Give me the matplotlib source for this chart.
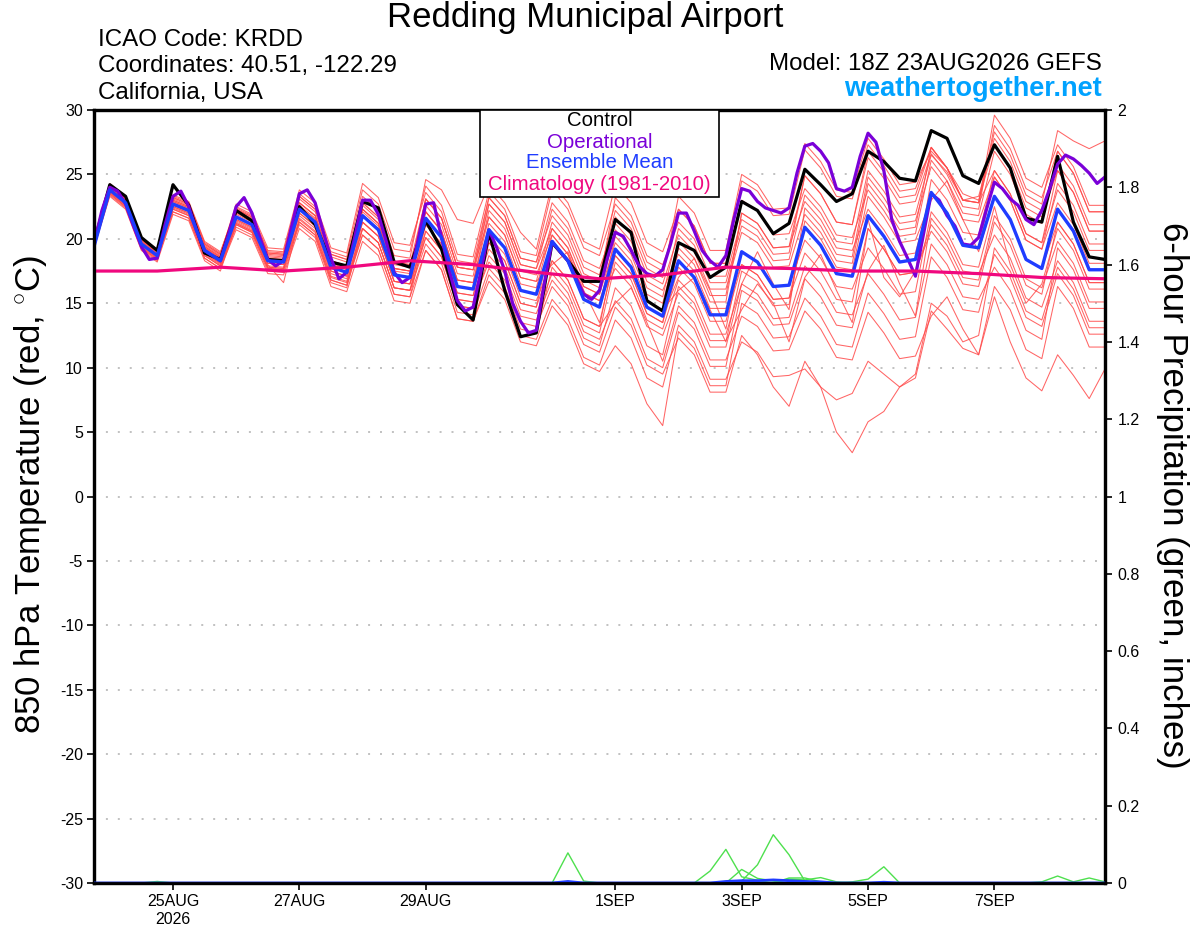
import numpy as np
import matplotlib
matplotlib.use('Agg')
import matplotlib.pyplot as plt
from matplotlib.patches import Rectangle

plt.rcParams['font.family'] = ['Liberation Sans', 'DejaVu Sans']
plt.rcParams['mathtext.fontset'] = 'custom'
plt.rcParams['mathtext.rm'] = 'Liberation Sans'

# ---------------- data (6-hourly from 18Z 23AUG2026, 65 steps) ----------------
tick_pos = [5, 13, 21, 33, 41, 49, 57]
tick_labels = ['25AUG\n2026', '27AUG', '29AUG', '1SEP', '3SEP', '5SEP', '7SEP']

control = [19.7, 24.2, 23.3, 20.1, 19.1, 24.2, 22.6, 18.9, 18.4, 22.2, 21.4, 18.4, 18.3,
           22.5, 21.1, 18.2, 17.9, 22.9, 22.4, 18.2, 17.8, 21.4, 19.2, 14.9, 13.7,
           20.5, 16.0, 12.4, 12.7, 19.7, 18.3, 16.7, 16.7, 21.5, 20.5, 15.2, 14.4,
           19.7, 19.1, 17.0, 17.8, 22.9, 22.2, 20.4, 21.2, 25.4, 24.2, 22.9, 23.5,
           26.8, 26.0, 24.7, 24.5, 28.4, 27.8, 24.9, 24.3, 27.3, 25.5, 21.6, 21.3,
           26.4, 21.3, 18.6, 18.4]

ens_mean = [19.4, 23.8, 22.8, 19.6, 18.7, 22.7, 22.2, 19.1, 18.3, 21.7, 21.1, 18.3, 18.2,
            22.3, 21.3, 17.8, 17.4, 21.8, 20.7, 17.2, 17.0, 21.6, 20.1, 16.3, 16.1,
            20.7, 19.3, 16.0, 15.7, 19.8, 18.3, 15.3, 14.7, 19.2, 17.8, 14.7, 14.0,
            18.3, 17.0, 14.1, 14.1, 19.0, 18.2, 16.3, 16.4, 20.9, 19.5, 17.3, 17.1,
            21.8, 20.2, 18.2, 18.4, 23.6, 22.0, 19.5, 19.3, 23.3, 21.5, 18.4, 17.7,
            22.3, 20.6, 17.6, 17.6]

# operational run, 3-hourly (129 values)
operational = [19.6, 22.2, 24.0, 23.7, 22.7, 21.0, 19.4, 18.4,
               18.5, 21.1, 23.3, 23.7, 22.5, 20.6, 19.1, 18.7,
               18.3, 20.3, 22.5, 23.2, 22.0, 20.1, 18.4, 17.9,
               18.3, 20.9, 23.5, 23.8, 22.8, 20.6, 18.5, 16.9,
               17.4, 20.1, 23.0, 23.0, 21.9, 19.8, 17.4, 16.6,
               17.0, 19.8, 22.7, 22.8, 20.1, 17.5, 15.2, 14.4,
               14.7, 17.5, 20.7, 19.3, 17.5, 15.0, 13.6, 12.7,
               12.9, 16.5, 19.8, 19.0, 18.3, 17.0, 15.7, 15.3,
               16.0, 18.5, 20.5, 20.2, 19.1, 17.9, 17.3, 17.1,
               17.6, 19.6, 22.0, 22.0, 20.6, 19.1, 18.3, 17.8,
               18.7, 21.5, 23.9, 23.7, 22.9, 22.4, 22.2, 22.0,
               22.4, 25.1, 27.2, 27.4, 26.8, 25.9, 23.9, 23.7,
               24.0, 26.4, 28.2, 27.5, 25.3, 21.5, 19.8, 18.5,
               17.1, 20.3, 23.5, 23.0, 21.8, 21.0, 19.6, 19.5,
               20.1, 22.3, 24.4, 23.9, 23.1, 22.6, 21.5, 21.1,
               22.2, 23.9, 25.8, 26.5, 26.2, 25.7, 25.1, 24.3,
               24.8]

# climatology, daily (every 4th step)
clim_daily = [17.5, 17.5, 17.8, 17.5, 17.8, 18.3, 18.0, 17.4, 16.9,
              17.2, 17.8, 17.7, 17.5, 17.5, 17.3, 17.0, 16.9]

m01 = [19.5, 24.2, 23.2, 20.0, 19.1, 23.3, 22.8, 19.7, 18.9, 22.5, 21.9, 19.1, 19.0, 23.5, 22.5, 19.0, 18.6, 23.8, 22.7, 19.2, 19.0, 24.1, 22.6, 18.8, 18.6, 23.7, 22.3, 19.0, 18.7, 23.8, 22.3, 19.3, 18.7, 22.7, 21.3, 18.2, 17.5, 22.3, 21.0, 18.1, 18.1, 24.5, 23.7, 21.8, 21.9, 26.9, 25.5, 23.3, 23.1, 27.3, 25.7, 23.7, 23.9, 27.1, 25.5, 23.0, 22.8, 29.6, 27.8, 24.7, 24.0, 27.3, 25.6, 22.6, 22.6]
m02 = [19.3, 23.5, 22.5, 19.3, 18.4, 22.3, 21.8, 18.7, 17.9, 21.1, 20.5, 17.7, 17.6, 21.3, 20.3, 16.8, 16.4, 20.3, 19.2, 15.7, 15.5, 19.1, 17.6, 13.8, 13.6, 17.2, 15.8, 12.5, 12.2, 15.3, 13.8, 10.8, 10.2, 13.7, 12.3, 9.2, 8.5, 13.3, 12.0, 9.1, 9.1, 12.0, 11.2, 9.3, 9.4, 9.9, 8.5, 5.0, 3.4, 5.8, 6.6, 8.5, 9.2, 14.4, 13.0, 11.5, 11.0, 15.5, 12.0, 9.2, 8.2, 11.0, 9.4, 7.6, 9.9]
m03 = [19.6, 24.0, 23.0, 19.8, 18.9, 23.0, 22.5, 19.4, 18.6, 22.2, 21.6, 18.8, 18.7, 23.1, 22.1, 18.6, 18.2, 23.3, 22.2, 18.7, 18.5, 24.6, 23.8, 21.5, 21.2, 24.2, 22.8, 20.5, 19.2, 24.3, 22.8, 19.8, 19.2, 24.2, 22.8, 19.7, 19.0, 22.3, 21.0, 18.1, 18.1, 23.0, 22.2, 20.3, 20.4, 23.9, 22.5, 20.3, 20.1, 23.8, 22.2, 20.2, 20.4, 26.1, 24.5, 22.0, 21.8, 26.8, 25.0, 21.9, 21.2, 26.8, 25.1, 22.1, 22.1]
m04 = [19.4, 23.4, 22.4, 19.2, 18.3, 22.1, 21.6, 18.5, 17.7, 20.7, 20.1, 17.3, 17.2, 20.8, 19.8, 16.3, 15.9, 19.8, 18.7, 15.2, 15.0, 19.1, 17.6, 13.8, 13.6, 16.7, 15.3, 12.0, 11.7, 14.8, 13.3, 10.3, 9.7, 11.7, 10.3, 7.2, 5.5, 12.8, 11.5, 8.6, 8.6, 15.0, 14.2, 12.3, 12.4, 15.4, 14.0, 11.8, 11.6, 15.8, 14.2, 12.2, 12.4, 18.6, 17.0, 14.5, 14.3, 18.8, 17.0, 13.9, 13.2, 17.3, 15.6, 12.6, 12.6]
m05 = [19.7, 24.3, 23.3, 20.1, 19.2, 23.4, 22.9, 19.8, 19.0, 22.3, 21.7, 18.9, 18.8, 22.8, 21.8, 18.3, 17.9, 22.3, 21.2, 17.7, 17.5, 22.6, 21.1, 17.3, 17.1, 22.7, 21.3, 18.0, 17.7, 22.3, 20.8, 17.8, 17.2, 22.2, 20.8, 17.7, 17.0, 23.3, 22.0, 19.1, 19.1, 25.0, 24.2, 22.3, 22.4, 27.4, 26.0, 23.8, 23.6, 27.8, 26.2, 24.2, 24.4, 26.8, 25.5, 23.5, 23.0, 27.3, 25.5, 22.4, 21.7, 25.3, 23.6, 20.6, 20.6]
m06 = [19.4, 23.6, 22.6, 19.4, 18.5, 22.4, 21.9, 18.8, 18.0, 21.5, 20.9, 18.1, 18.0, 21.8, 20.8, 17.3, 16.9, 20.8, 19.7, 16.2, 16.0, 20.1, 18.6, 14.8, 14.6, 18.7, 17.3, 14.0, 13.7, 16.8, 15.3, 12.3, 11.7, 16.2, 14.8, 11.7, 11.0, 16.3, 15.0, 12.1, 12.1, 14.5, 16.5, 15.0, 12.0, 16.9, 15.5, 13.3, 13.1, 17.5, 19.5, 16.5, 14.0, 21.6, 20.0, 17.5, 17.3, 20.3, 18.5, 15.4, 14.7, 18.3, 16.6, 13.6, 13.6]
m07 = [19.5, 23.9, 22.9, 19.7, 18.8, 22.9, 22.4, 19.3, 18.5, 22.1, 21.5, 18.7, 18.6, 22.8, 21.8, 18.3, 17.9, 22.8, 21.7, 18.2, 18.0, 23.1, 21.6, 17.8, 17.6, 21.7, 20.3, 17.0, 16.7, 21.3, 19.8, 16.8, 16.2, 21.7, 20.3, 17.2, 16.5, 20.3, 19.0, 16.1, 16.1, 20.5, 19.7, 17.8, 17.9, 21.9, 20.5, 18.3, 18.1, 24.3, 22.7, 20.7, 20.9, 27.1, 25.5, 23.0, 22.8, 25.3, 23.5, 20.4, 19.7, 23.8, 22.1, 19.1, 19.1]
m08 = [19.4, 23.7, 22.7, 19.5, 18.6, 22.3, 21.8, 18.7, 17.9, 20.9, 20.3, 17.5, 17.4, 21.1, 20.1, 16.6, 16.2, 20.8, 19.7, 16.2, 16.0, 19.6, 18.1, 14.3, 14.1, 17.7, 16.3, 13.0, 12.7, 17.8, 16.3, 13.3, 12.7, 18.2, 16.8, 13.7, 13.0, 16.8, 15.5, 12.6, 12.6, 16.5, 15.7, 13.8, 13.9, 17.9, 16.5, 14.3, 14.1, 17.3, 15.7, 13.7, 13.9, 19.6, 18.0, 15.5, 15.3, 17.8, 16.0, 12.9, 12.2, 19.3, 17.6, 14.6, 14.6]
m09 = [19.6, 24.1, 23.1, 19.9, 19.0, 22.8, 22.3, 19.2, 18.4, 21.7, 21.1, 18.3, 18.2, 22.6, 21.6, 18.1, 17.7, 22.6, 21.5, 18.0, 17.8, 22.1, 20.6, 16.8, 16.6, 22.2, 20.8, 17.5, 17.2, 20.3, 18.8, 15.8, 15.2, 18.7, 17.3, 14.2, 13.5, 19.3, 18.0, 15.1, 15.1, 22.0, 21.2, 19.3, 19.4, 24.9, 23.5, 21.3, 21.1, 26.8, 25.2, 23.2, 23.4, 27.1, 25.5, 23.0, 22.8, 28.3, 26.5, 23.4, 22.7, 28.4, 27.6, 27.0, 27.6]
m10 = [19.4, 23.8, 22.8, 19.6, 18.7, 22.5, 22.0, 18.9, 18.1, 21.9, 21.3, 18.5, 18.4, 22.0, 21.0, 17.5, 17.1, 21.3, 20.2, 16.7, 16.5, 20.6, 19.1, 15.3, 15.1, 20.2, 18.8, 15.5, 15.2, 18.3, 16.8, 13.8, 13.2, 15.0, 16.2, 13.5, 10.5, 14.8, 13.5, 10.6, 10.6, 14.0, 13.2, 11.3, 11.4, 14.4, 13.0, 10.8, 10.6, 14.3, 12.7, 10.7, 10.9, 14.0, 15.5, 13.0, 11.0, 16.3, 14.5, 11.4, 10.7, 16.3, 14.6, 11.6, 11.6]
m11 = [19.5, 24.0, 23.0, 19.8, 18.9, 23.2, 22.7, 19.6, 18.8, 22.7, 22.1, 19.3, 19.2, 23.8, 22.8, 19.3, 18.9, 24.3, 23.2, 19.7, 19.5, 23.6, 22.1, 18.3, 18.1, 23.2, 21.8, 18.5, 18.2, 22.8, 21.3, 18.3, 17.7, 21.2, 19.8, 16.7, 16.0, 18.8, 17.5, 14.6, 14.6, 18.0, 17.2, 15.3, 15.4, 18.9, 17.5, 15.3, 15.1, 20.8, 19.2, 17.2, 17.4, 24.6, 23.0, 20.5, 20.3, 25.3, 23.5, 20.4, 19.7, 25.3, 23.6, 20.6, 20.6]
m12 = [19.3, 23.5, 22.5, 19.3, 18.4, 22.6, 22.1, 19.0, 18.2, 21.3, 20.7, 17.9, 17.8, 21.5, 20.5, 17.0, 16.6, 20.8, 19.7, 16.2, 16.0, 21.1, 19.6, 15.8, 15.6, 21.2, 19.8, 16.5, 16.2, 20.8, 19.3, 16.3, 15.7, 20.7, 19.3, 16.2, 15.5, 20.8, 19.5, 16.6, 16.6, 21.0, 20.2, 18.3, 18.4, 23.4, 22.0, 19.8, 19.6, 25.3, 23.7, 21.7, 21.9, 26.5, 25.2, 23.0, 23.3, 27.8, 26.0, 22.9, 22.2, 25.8, 24.1, 21.1, 21.1]
m13 = [19.5, 23.9, 22.9, 19.7, 18.8, 23.1, 22.6, 19.5, 18.7, 22.0, 21.4, 18.6, 18.5, 22.5, 21.5, 18.0, 17.6, 21.8, 20.7, 17.2, 17.0, 21.1, 19.6, 15.8, 15.6, 19.2, 17.8, 14.5, 14.2, 17.3, 15.8, 12.8, 12.2, 15.2, 13.8, 10.7, 10.0, 14.3, 13.0, 10.1, 10.1, 16.0, 15.2, 13.3, 13.4, 17.0, 18.8, 16.0, 13.5, 20.8, 19.2, 17.2, 17.4, 21.1, 19.5, 17.0, 16.8, 21.8, 20.0, 16.9, 16.2, 19.8, 18.1, 15.1, 15.1]
m14 = [19.3, 23.3, 22.3, 19.1, 18.2, 21.9, 21.4, 18.3, 17.5, 21.1, 20.5, 17.7, 17.6, 22.0, 21.0, 17.5, 17.1, 22.1, 21.0, 17.5, 17.3, 23.1, 21.6, 17.8, 17.6, 22.7, 21.3, 18.0, 17.7, 20.8, 19.3, 16.3, 15.7, 19.7, 18.3, 15.2, 14.5, 16.0, 17.0, 14.5, 12.0, 17.5, 16.7, 14.8, 14.9, 21.4, 20.0, 17.8, 17.6, 23.3, 21.7, 19.7, 19.9, 23.0, 24.5, 21.5, 19.0, 23.3, 21.5, 18.4, 17.7, 21.3, 19.6, 16.6, 16.6]
m15 = [19.6, 24.1, 23.1, 19.9, 19.0, 22.7, 22.2, 19.1, 18.3, 21.4, 20.8, 18.0, 16.6, 21.6, 20.6, 17.1, 16.7, 20.3, 19.2, 15.7, 15.5, 20.6, 19.1, 15.3, 15.1, 18.2, 16.8, 13.5, 13.2, 16.3, 14.8, 11.8, 11.2, 14.7, 13.3, 10.2, 9.5, 12.3, 11.0, 8.1, 8.1, 12.5, 11.0, 8.5, 7.0, 10.5, 8.5, 7.5, 8.0, 10.5, 9.5, 8.5, 9.5, 15.0, 14.0, 12.0, 12.5, 19.3, 17.5, 14.4, 13.7, 17.8, 16.1, 13.1, 13.1]
m16 = [19.4, 23.8, 22.8, 19.6, 18.7, 23.2, 22.7, 19.6, 18.8, 22.4, 21.8, 19.0, 18.9, 23.3, 22.3, 18.8, 18.4, 22.8, 21.7, 18.2, 18.0, 22.1, 20.6, 16.8, 16.6, 20.7, 19.3, 16.0, 15.7, 19.8, 18.3, 15.3, 14.7, 20.2, 18.8, 15.7, 15.0, 19.8, 18.5, 15.6, 15.6, 22.0, 21.2, 19.3, 19.4, 22.9, 21.5, 19.3, 19.1, 22.3, 20.7, 18.7, 18.9, 23.6, 22.0, 19.5, 19.3, 24.8, 23.0, 19.9, 19.2, 24.3, 22.6, 19.6, 19.6]
m17 = [19.4, 23.7, 22.7, 19.5, 18.6, 22.5, 22.0, 18.9, 18.1, 21.2, 20.6, 17.8, 17.7, 22.3, 21.3, 17.8, 17.4, 22.3, 21.2, 17.7, 17.5, 21.6, 20.1, 16.3, 16.1, 19.7, 18.3, 15.0, 14.7, 18.3, 16.8, 13.8, 13.2, 19.2, 17.8, 14.7, 14.0, 17.0, 18.5, 16.0, 13.0, 19.0, 18.2, 16.3, 16.4, 19.9, 18.5, 16.3, 16.1, 19.3, 17.7, 15.7, 15.9, 22.1, 20.5, 18.0, 17.8, 22.5, 18.0, 15.0, 16.5, 20.8, 19.1, 16.1, 16.1]
m18 = [19.6, 24.2, 23.2, 20.0, 19.1, 23.0, 22.5, 19.4, 18.6, 22.3, 21.7, 18.9, 18.8, 23.3, 22.3, 18.8, 18.4, 22.3, 21.2, 17.7, 17.5, 23.1, 21.6, 17.8, 17.6, 23.2, 21.8, 18.5, 18.2, 21.8, 20.3, 17.3, 16.7, 23.2, 21.8, 18.7, 18.0, 21.3, 20.0, 17.1, 17.1, 21.5, 20.7, 18.8, 18.9, 24.9, 23.5, 21.3, 21.1, 26.3, 24.7, 22.7, 22.9, 26.6, 25.0, 22.5, 22.3, 28.8, 27.0, 23.9, 23.2, 26.8, 25.1, 22.1, 22.1]
m19 = [19.3, 23.6, 22.6, 19.4, 18.5, 22.1, 21.6, 18.5, 17.7, 21.2, 20.6, 17.8, 17.7, 21.3, 20.3, 16.8, 16.4, 21.3, 20.2, 16.7, 16.5, 20.1, 18.6, 14.8, 14.6, 19.7, 18.3, 15.0, 14.7, 20.3, 18.8, 15.8, 15.2, 17.7, 16.3, 13.2, 12.5, 15.8, 14.5, 11.6, 11.6, 16.5, 19.0, 16.5, 14.5, 22.4, 21.0, 18.8, 18.6, 24.8, 23.2, 21.2, 21.4, 25.6, 24.0, 21.5, 21.3, 24.8, 23.0, 19.9, 19.2, 22.8, 21.1, 18.1, 18.1]
m20 = [19.5, 23.8, 22.8, 19.6, 18.7, 22.9, 22.4, 19.3, 18.5, 21.5, 20.9, 18.1, 18.0, 22.8, 21.8, 18.3, 17.9, 21.3, 20.2, 16.7, 16.5, 22.1, 20.6, 16.8, 16.6, 21.7, 20.3, 17.0, 16.7, 18.0, 19.0, 16.0, 13.5, 18.7, 17.3, 14.2, 13.5, 17.8, 16.5, 13.6, 13.6, 18.0, 17.2, 15.3, 15.4, 20.9, 19.5, 17.3, 17.1, 21.5, 17.0, 15.5, 17.5, 20.6, 19.0, 16.5, 16.3, 21.3, 19.5, 16.4, 15.7, 21.3, 19.6, 16.6, 16.6]
members = [m01, m02, m03, m04, m05, m06, m07, m08, m09, m10,
           m11, m12, m13, m14, m15, m16, m17, m18, m19, m20]

# 6-hour precipitation (inches): nonzero steps of the members that show rain
precip_members = [
    {4: 0.004},
    {29: 0.0, 30: 0.078, 31: 0.005},
    {38: 0.0, 39: 0.031, 40: 0.087, 41: 0.016, 42: 0.007},
    {40: 0.0, 41: 0.035, 42: 0.012, 43: 0.005},
    {41: 0.005, 42: 0.047, 43: 0.125, 44: 0.073, 45: 0.005},
    {43: 0.0, 44: 0.013, 45: 0.013, 46: 0.003},
    {44: 0.01, 45: 0.008, 46: 0.014, 47: 0.003},
    {48: 0.003, 49: 0.01, 50: 0.042, 51: 0.0},
    {60: 0.003, 61: 0.018, 62: 0.003, 63: 0.013, 64: 0.003},
]
precip_mean = {30: 0.004, 40: 0.004, 41: 0.006, 42: 0.006, 43: 0.008,
               44: 0.006, 45: 0.004, 46: 0.003, 50: 0.002}

# ---------------- figure ----------------
W, H = 1200, 927
fig = plt.figure(figsize=(W / 100, H / 100), dpi=100)
ax = fig.add_axes([94 / W, 1 - 883 / H, 1011 / W, 773 / H])

n = len(control)
x6 = np.arange(n)
x3 = np.arange(len(operational)) / 2.0
xd = np.arange(len(clim_daily)) * 4

for yv in range(-25, 30, 5):
    ax.axhline(yv, color='#b0b0b0', lw=1.1, ls=(0, (1.3, 6.5)), zorder=0.5)

for m in members:
    ax.plot(x6, m, color='#ff4a4a', lw=0.75, alpha=0.85, zorder=1)

ax.plot(x6, control, color='black', lw=2.3, zorder=3)
ax.plot(x3, operational, color='#7a00d8', lw=2.3, zorder=4)
ax.plot(x6, ens_mean, color='#1f3cff', lw=2.4, zorder=5)
ax.plot(xd, clim_daily, color='#f0087e', lw=2.3, zorder=6)

ax.set_xlim(0, n - 1)
ax.set_ylim(-30, 30)
ax.set_yticks(range(-30, 31, 5))
ax.set_yticklabels([str(v) for v in range(-30, 31, 5)])
ax.set_xticks(tick_pos)
ax.set_xticklabels(tick_labels)
ax.tick_params(axis='both', direction='out', length=5, width=1.2, labelsize=11.5, pad=3)
for sp in ax.spines.values():
    sp.set_linewidth(2.3)

# precipitation axis
ax2 = ax.twinx()
for pm in precip_members:
    arr = np.zeros(n)
    for k, v in pm.items():
        arr[k] = v
    ax2.plot(x6, arr, color='#4ee04e', lw=1.0, zorder=2)
pmean = np.zeros(n)
for k, v in precip_mean.items():
    pmean[k] = v
ax2.plot(x6, pmean, color='#1f3cff', lw=2.0, zorder=3)
ax2.plot(x6, np.zeros(n), color='black', lw=2.0, zorder=4)
ax2.set_ylim(0, 2)
rt = [round(0.2 * i, 1) for i in range(11)]
ax2.set_yticks(rt)
ax2.set_yticklabels(['%g' % v for v in rt])
ax2.tick_params(axis='y', direction='out', length=5, width=1.2, labelsize=11.5, pad=4)
for sp in ax2.spines.values():
    sp.set_linewidth(2.3)

# legend box
fig.add_artist(Rectangle((480 / W, 1 - 197 / H), (719 - 480) / W, (197 - 110) / H,
                         transform=fig.transFigure, facecolor='white',
                         edgecolor='black', lw=1.2, zorder=10))
leg = [('Control', 'black', 121), ('Operational', '#7a00d8', 142),
       ('Ensemble Mean', '#1f3cff', 163), ('Climatology (1981-2010)', '#f0087e', 185)]
for txt, col, yy in leg:
    fig.text(599.5 / W, 1 - yy / H, txt, color=col, ha='center', va='center',
             fontsize=14.7, zorder=11)

# titles and info
fig.text(585 / W, 1 - 18 / H, 'Redding Municipal Airport', ha='center', va='center', fontsize=25)
fig.text(98 / W, 1 - 40 / H, 'ICAO Code: KRDD', ha='left', va='center', fontsize=17.4)
fig.text(98 / W, 1 - 66 / H, 'Coordinates: 40.51, -122.29', ha='left', va='center', fontsize=17.4)
fig.text(98 / W, 1 - 93 / H, 'California, USA', ha='left', va='center', fontsize=17.4)
fig.text(1102 / W, 1 - 64 / H, 'Model: 18Z 23AUG2026 GEFS', ha='right', va='center', fontsize=17.4)
fig.text(1102 / W, 1 - 89 / H, 'weathertogether.net', ha='right', va='center', fontsize=19.5,
         fontweight='bold', color='#00a2ff')

fig.text(31 / W, 1 - 495 / H, '850 hPa Temperature (red, $^{\\circ}$C)', rotation=90,
         ha='center', va='center', fontsize=25)
fig.text(1172 / W, 1 - 495 / H, '6-hour Precipitation (green, inches)', rotation=270,
         ha='center', va='center', fontsize=25.2)

fig.savefig('out.png', dpi=100)
